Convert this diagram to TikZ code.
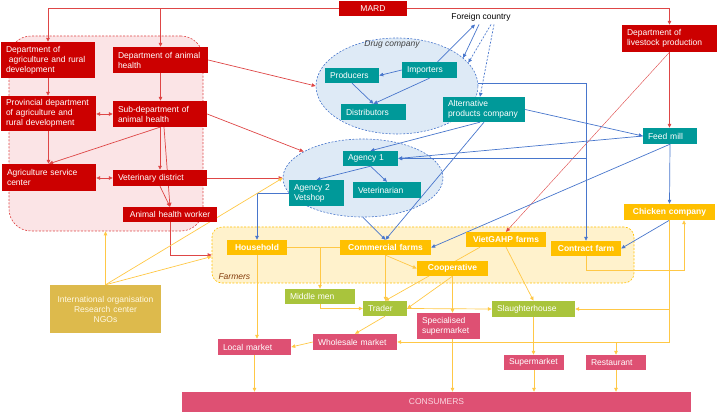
\documentclass[tikz,border=0pt]{standalone}
\usepackage{fontspec}
\setmainfont{Liberation Sans}
\usetikzlibrary{arrows.meta,shapes.geometric,positioning}
\pgfdeclarelayer{bg}
\pgfsetlayers{bg,main}
\definecolor{mardred}{RGB}{204,0,0}
\definecolor{redln}{RGB}{222,70,70}
\definecolor{tealbx}{RGB}{0,153,153}
\definecolor{blueln}{RGB}{72,118,204}
\definecolor{orng}{RGB}{255,192,0}
\definecolor{yelln}{RGB}{255,200,70}
\definecolor{grn}{RGB}{169,196,60}
\definecolor{pinkbx}{RGB}{222,80,115}
\definecolor{pktext}{RGB}{250,215,225}
\definecolor{intlgold}{RGB}{221,186,76}
\definecolor{intltext}{RGB}{255,248,225}
\definecolor{redfill}{RGB}{251,228,230}
\definecolor{ellfill}{RGB}{222,234,246}
\definecolor{farmfill}{RGB}{255,242,204}
\definecolor{farmtext}{RGB}{132,60,12}

\begin{document}
\begin{tikzpicture}[x=1pt, y=-1pt, >={Triangle[length=4pt,width=3.5pt]},
  font=\fontsize{8.5}{10}\selectfont,
  box/.style={inner xsep=5pt, inner ysep=1pt, text=white, align=left, minimum height=15pt},
  redbox/.style={box, fill=mardred},
  tealbox/.style={box, fill=tealbx},
  orbox/.style={box, fill=orng, align=center, font=\fontsize{8.5}{10}\selectfont\bfseries},
  grbox/.style={box, fill=grn},
  pkbox/.style={box, fill=pinkbx},
  region/.style={dash pattern=on 2pt off 1.5pt, line width=0.6pt, inner sep=0pt},
  rline/.style={draw=redln, line width=0.7pt, ->},
  bline/.style={draw=blueln, line width=0.7pt, ->},
  yline/.style={draw=yelln, line width=0.7pt, ->}]

  \useasboundingbox (0,0) rectangle (718,414);

  % government
  \node[redbox, text width=58pt, align=center] (mard) at (373,8.5) {MARD};
  \node[redbox, text width=84pt, minimum height=36pt] (dagri) at (48,60) {Department of\\\ agriculture and rural\\development};
  \node[redbox, text width=85pt, minimum height=26pt] (danimal) at (160.5,60) {Department of animal\\health};
  \node[redbox, text width=85pt, minimum height=35pt] (prov) at (48.5,113.5) {Provincial department\\of agriculture and\\rural development};
  \node[redbox, text width=84pt, minimum height=26pt] (subdept) at (160,114) {Sub-department of\\animal health};
  \node[redbox, text width=84pt, minimum height=27pt] (agrisc) at (49,177.5) {Agriculture service\\center};
  \node[redbox, text width=84pt, minimum height=16pt] (vetdist) at (160,178) {Veterinary district};
  \node[redbox, text width=84pt, align=center] (ahw) at (170,214.5) {Animal health worker};
  \node[redbox, text width=85pt, minimum height=27pt] (dlive) at (669.5,38.5) {Department of\\livestock production};

  % drug and feed suppliers
  \node (foreign) at (481,17) {Foreign country};
  \node[tealbox, text width=44pt] (producers) at (352,75.5) {Producers};
  \node[tealbox, text width=45pt, minimum height=16pt] (importers) at (429.5,70) {Importers};
  \node[tealbox, text width=55pt, minimum height=16pt] (distrib) at (373.5,112) {Distributors};
  \node[tealbox, text width=72pt, minimum height=25pt] (altprod) at (484,109.5) {Alternative\\products company};
  \node[tealbox, text width=45pt] (agency1) at (370.5,158.5) {Agency 1};
  \node[tealbox, text width=45pt, minimum height=26pt] (agency2) at (316.5,193) {Agency 2\\Vetshop};
  \node[tealbox, text width=58pt, minimum height=16pt] (vetn) at (387,190) {Veterinarian};
  \node[tealbox, text width=44pt, minimum height=16pt] (feedmill) at (670,136) {Feed mill};
  \node[text=black!75] at (392,44) {\itshape Drug company};

  % farms
  \node[orbox, text width=50pt] (household) at (257,247.5) {Household};
  \node[orbox, text width=81pt] (commercial) at (385.5,247.5) {Commercial farms};
  \node[orbox, text width=70pt] (vietgahp) at (506,239.5) {VietGAHP farms};
  \node[orbox, text width=61pt] (coop) at (452.5,268.5) {Cooperative};
  \node[orbox, text width=60pt] (contract) at (586,248.5) {Contract farm};
  \node[orbox, text width=81pt, minimum height=16pt] (chicken) at (669.5,212) {Chicken company};
  \node[text=farmtext, anchor=west] at (215,277) {\itshape Farmers};

  % trade
  \node[grbox, text width=60pt] (middlemen) at (320,296.5) {Middle men};
  \node[grbox, text width=34pt] (trader) at (385,308.5) {Trader};
  \node[grbox, text width=73pt, minimum height=16pt] (slaughter) at (533.5,309) {Slaughterhouse};
  \node[pkbox, text width=53pt, minimum height=26pt] (specsm) at (448.5,326) {Specialised\\supermarket};
  \node[pkbox, text width=74pt, minimum height=16pt] (wholesale) at (355,342) {Wholesale market};
  \node[pkbox, text width=63pt, minimum height=16pt] (localm) at (254.5,347) {Local market};
  \node[pkbox, text width=50pt] (supermkt) at (534,362.5) {Supermarket};
  \node[pkbox, text width=50pt] (restaurant) at (616,362.5) {Restaurant};
  \node[pkbox, text width=499pt, minimum height=20pt, align=center, text=pktext] (consumers) at (436.5,402) {CONSUMERS};
  \node[box, fill=intlgold, text=intltext, text width=101pt, minimum height=48pt, align=center] (intl) at (105.5,309) {International organisation\\Research center\\NGOs};

  \begin{pgfonlayer}{bg}
    \node[region, draw=redln, fill=redfill, rounded corners=22pt, minimum width=194pt, minimum height=195pt] (redzone) at (106,133.5) {};
    \node[region, ellipse, draw=blueln, fill=ellfill, minimum width=162pt, minimum height=96pt] (drug) at (397,86) {};
    \node[region, ellipse, draw=blueln, fill=ellfill, minimum width=160pt, minimum height=78pt] (agency) at (363,178) {};
    \node[region, draw=orng, fill=farmfill, rounded corners=10pt, minimum width=422pt, minimum height=56pt] (farmers) at (423,255) {};

    % red links
    \draw[rline] (mard.west) -| (dagri.north);
    \draw[rline] (mard.west) -| (danimal.north);
    \draw[rline] (mard.east) -| (dlive.north);
    \draw[rline] (dagri.south) -- (dagri.south |- prov.north);
    \draw[rline] (danimal.south) -- (danimal.south |- subdept.north);
    \draw[rline, <->] (prov.east |- subdept.west) -- (subdept.west);
    \draw[rline] (prov.south) -- (prov.south |- agrisc.north);
    \draw[rline] (subdept.south) -- (agrisc.north);
    \draw[rline, <->] (agrisc.east |- vetdist.west) -- (vetdist.west);
    \draw[rline] (subdept.south) -- (subdept.south |- vetdist.north);
    \draw[rline] ([xshift=4pt]subdept.south) -- (ahw.north);
    \draw[rline] (vetdist.south) -- (ahw.north);
    \draw[rline] (ahw.south) |- (farmers.west);
    \draw[rline] (danimal.east) -- (drug.west);
    \draw[rline] (subdept.east) -- (agency.156);
    \draw[rline] (vetdist.east) -- (vetdist.east -| agency.west);
    \draw[rline] (dlive.south) -- (dlive.south |- feedmill.north);
    \draw[rline, line width=0.4pt] (dlive.south) -- (vietgahp.north);

    % blue links
    \draw[bline] (importers.west) -- (producers.east);
    \draw[bline] (producers.south) -- (distrib.north);
    \draw[bline] (importers.south) -- (distrib.north);
    \draw[bline] ([xshift=8pt]importers.north) -- ([xshift=-6pt]foreign.south);
    \draw[bline] ([xshift=-2pt]foreign.south) -- (drug.23);
    \draw[bline, dash pattern=on 2pt off 1.5pt] ([xshift=10pt]foreign.south) -- (drug.18);
    \draw[bline, dash pattern=on 2pt off 1.5pt] ([xshift=13pt]foreign.south) -- ([xshift=-4pt]altprod.north);
    \draw[bline] (altprod.east) -- (feedmill.west);
    \draw[bline] (feedmill.west) -- (agency1.east);
    \draw[bline] ([yshift=3pt]drug.east) -| (contract.north);
    \coordinate (cjoin) at (contract.north |- agency1.east);
    \draw[bline] (cjoin) -- (agency1.east);
    \draw[bline] ([xshift=-4pt]altprod.south) -- (agency1.north);
    \draw[bline] (altprod.south) -- (commercial.north);
    \draw[bline] (agency1.south) -- (agency2.north);
    \draw[bline] (agency1.south) -- (vetn.north);
    \draw[bline] (agency2.west) -| (household.north);
    \draw[bline] (agency.south) -- (commercial.north);
    \draw[bline] (feedmill.south) -- (commercial.east);
    \draw[bline] (feedmill.south) -- (chicken.north);
    \draw[bline] (chicken.south) -- (contract.east);

    % yellow links
    \draw[yline] (intl.north) -- (intl.north |- redzone.south);
    \draw[yline] (intl.north) -- (agency.west);
    \draw[yline] (intl.north) -- ([yshift=-1.5pt]farmers.west);
    \draw[yline, -] (household.east) -- (commercial.west);
    \coordinate (hjoin) at (middlemen.north |- household.east);
    \draw[yline] (hjoin) -- (middlemen.north);
    \draw[yline] (middlemen.south) |- (trader.west);
    \draw[yline] (commercial.south) -- (commercial.south |- trader.north);
    \draw[yline] (commercial.south) -- (coop.west);
    \draw[yline] ([xshift=-26pt]vietgahp.south) -- (trader.north);
    \draw[yline] (vietgahp.south) -- (slaughter.north);
    \draw[yline] (coop.south) -- (trader.east);
    \draw[yline] (coop.south) -- (coop.south |- specsm.north);
    \draw[yline] (trader.east) -- (slaughter.west);
    \draw[yline] (trader.south) -- (wholesale.north);
    \draw[yline] (wholesale.west) -- (localm.east);
    \draw[yline] (household.south) -- (household.south |- localm.north);
    \draw[yline] (localm.south) -- (localm.south |- consumers.north);
    \draw[yline] (coop.south |- specsm.south) -- (coop.south |- consumers.north);
    \draw[yline] (slaughter.south) -- (slaughter.south |- supermkt.north);
    \draw[yline] (supermkt.south) -- (supermkt.south |- consumers.north);
    \draw[yline] (restaurant.south) -- (restaurant.south |- consumers.north);
    \draw[yline] (chicken.south) |- (wholesale.east);
    \draw[yline] (chicken.south |- slaughter.east) -- (slaughter.east);
    \draw[yline] (restaurant.north |- wholesale.east) -- (restaurant.north);
    \draw[yline] (contract.south) -- ++(0,14) -| ([xshift=14.5pt]chicken.south);
  \end{pgfonlayer}
\end{tikzpicture}
\end{document}
